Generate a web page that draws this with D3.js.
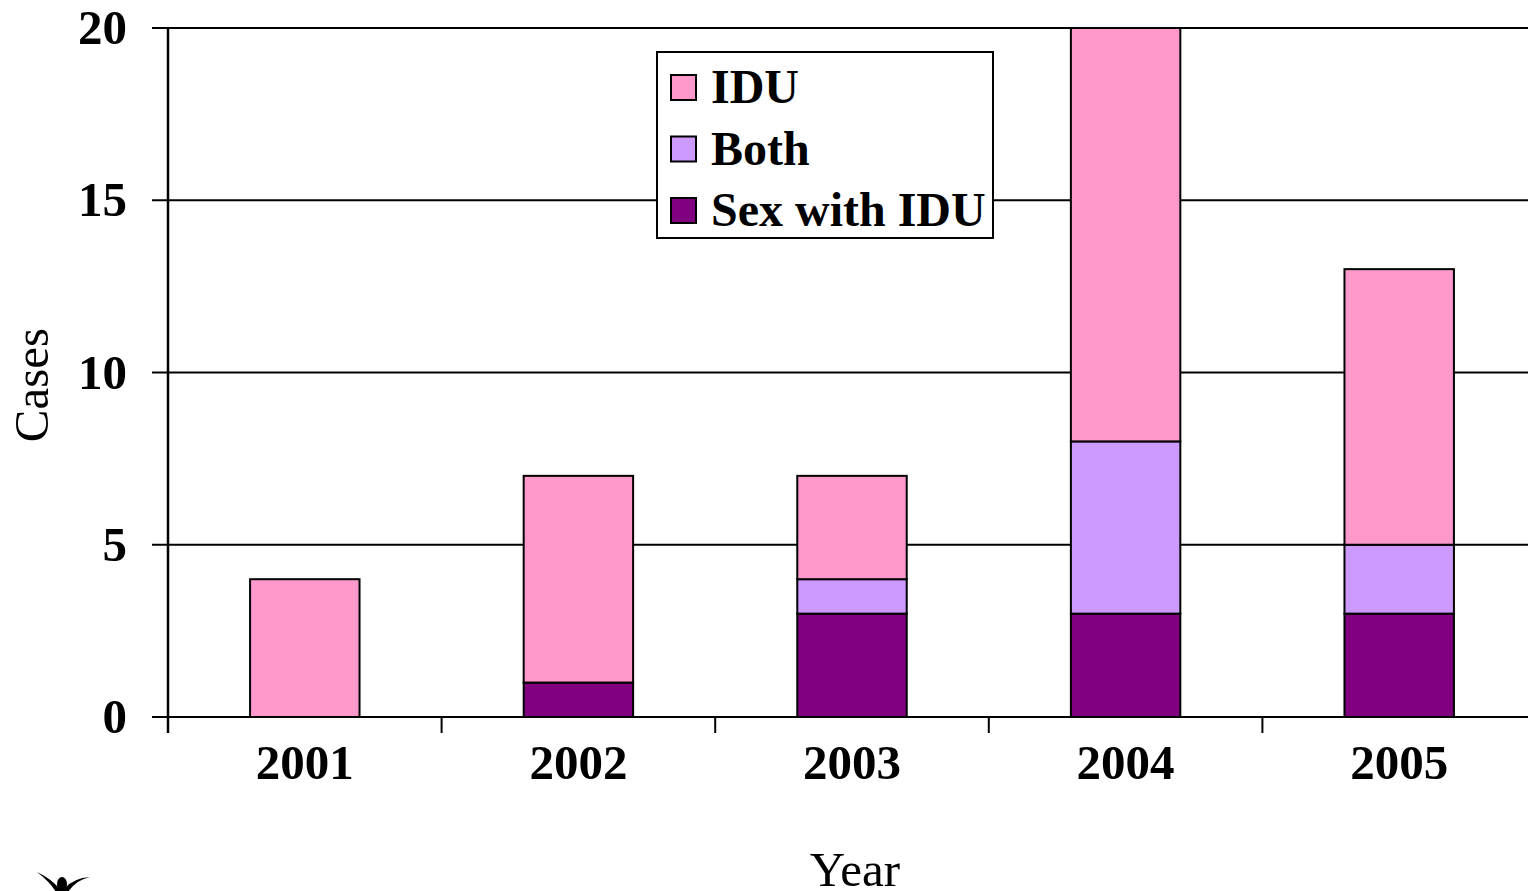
<!DOCTYPE html>
<html lang="en">
<head>
    <meta charset="UTF-8">
    <title>Cases by year</title>
    <script src="https://d3js.org/d3.v7.min.js"></script>
    <style>
        body { margin: 0; background: #fff; }
        text { font-family: "Liberation Serif", "Times New Roman", serif; }
    </style>
</head>
<body>
<script>
    // data
    years = ["2001", "2002", "2003", "2004", "2005"]
    sexWithIdu = [0, 1, 3, 3, 3]
    both = [0, 0, 1, 5, 2]
    idu = [4, 6, 3, 12, 8]
    yTicks = [0, 5, 10, 15, 20]

    seriesNames = ["Sex with IDU", "Both", "IDU"]
    colors = {"Sex with IDU": "#800080", "Both": "#CC99FF", "IDU": "#FF99CC"}

    rows = years.map((y, i) => ({year: y, "Sex with IDU": sexWithIdu[i], "Both": both[i], "IDU": idu[i]}))

    // chart dimensions
    w = 1528
    h = 891
    margin = {top: 28, right: -8, bottom: 174, left: 168}
    width = w - margin.left - margin.right
    height = h - margin.top - margin.bottom

    root = d3.select("body")
        .append("svg")
        .attr("width", w)
        .attr("height", h)

    svg = root.append("g")
        .attr("transform", "translate(" + margin.left + "," + margin.top + ")")

    x = d3.scaleBand()
        .domain(years)
        .range([0, width])
        .paddingInner(0.6)
        .paddingOuter(0.3)

    xTick = d3.scaleBand()
        .domain(years)
        .range([0, width])

    y = d3.scaleLinear()
        .domain([0, 20])
        .range([height, 0])

    // gridlines
    svg.selectAll("line.grid")
        .data(yTicks)
        .enter()
        .append("line")
        .attr("class", "grid")
        .attr("x1", -16)
        .attr("x2", width)
        .attr("y1", d => y(d))
        .attr("y2", d => y(d))
        .attr("stroke", "#000")
        .attr("stroke-width", 2)

    // y axis line
    svg.append("line")
        .attr("x1", 0).attr("x2", 0)
        .attr("y1", 0).attr("y2", height + 16)
        .attr("stroke", "#000")
        .attr("stroke-width", 2.5)

    // x ticks
    svg.selectAll("line.xtick")
        .data(years.slice(1))
        .enter()
        .append("line")
        .attr("class", "xtick")
        .attr("x1", d => xTick(d))
        .attr("x2", d => xTick(d))
        .attr("y1", height)
        .attr("y2", height + 16)
        .attr("stroke", "#000")
        .attr("stroke-width", 2)

    // stacked bars
    stack = d3.stack().keys(seriesNames)(rows)

    svg.selectAll("g.layer")
        .data(stack)
        .enter()
        .append("g")
        .attr("class", "layer")
        .attr("fill", d => colors[d.key])
        .selectAll("rect")
        .data(d => d.filter(s => s[1] > s[0]))
        .enter()
        .append("rect")
        .attr("x", d => x(d.data.year))
        .attr("width", x.bandwidth())
        .attr("y", d => y(d[1]))
        .attr("height", d => y(d[0]) - y(d[1]))
        .attr("stroke", "#000")
        .attr("stroke-width", 2)

    // y tick labels
    svg.selectAll("text.ylab")
        .data(yTicks)
        .enter()
        .append("text")
        .attr("class", "ylab")
        .attr("x", -41)
        .attr("y", d => y(d) + 16)
        .attr("text-anchor", "end")
        .attr("font-weight", "bold")
        .attr("font-size", 49)
        .text(d => d)

    // x tick labels
    svg.selectAll("text.xlab")
        .data(years)
        .enter()
        .append("text")
        .attr("class", "xlab")
        .attr("x", d => xTick(d) + xTick.bandwidth() / 2)
        .attr("y", height + 62)
        .attr("text-anchor", "middle")
        .attr("font-weight", "bold")
        .attr("font-size", 49)
        .text(d => d)

    // axis titles
    root.append("text")
        .attr("transform", "translate(48,385) rotate(-90)")
        .attr("text-anchor", "middle")
        .attr("font-size", 49)
        .text("Cases")

    root.append("text")
        .attr("x", 855)
        .attr("y", 886)
        .attr("text-anchor", "middle")
        .attr("font-size", 49)
        .text("Year")

    // legend
    legend = root.append("g")
        .attr("transform", "translate(657,52)")

    legend.append("rect")
        .attr("width", 336)
        .attr("height", 186)
        .attr("fill", "#fff")
        .attr("stroke", "#000")
        .attr("stroke-width", 2)

    legendItems = ["IDU", "Both", "Sex with IDU"]
    li = legend.selectAll("g.item")
        .data(legendItems)
        .enter()
        .append("g")
        .attr("class", "item")
        .attr("transform", (d, i) => "translate(14," + (35 + i * 61.5) + ")")

    li.append("rect")
        .attr("x", 0)
        .attr("y", -12)
        .attr("width", 25)
        .attr("height", 25)
        .attr("fill", d => colors[d])
        .attr("stroke", "#000")
        .attr("stroke-width", 2)

    li.append("text")
        .attr("x", 40)
        .attr("y", 16)
        .attr("font-weight", "bold")
        .attr("font-size", 48)
        .text(d => d)

    // logo stub bottom-left
    logo = root.append("g").attr("transform", "translate(62,884)")
    logo.append("ellipse").attr("cx", 0).attr("cy", 0).attr("rx", 5).attr("ry", 7).attr("fill", "#000")
    logo.append("path")
        .attr("d", "M-25,-12 Q-12,-2 -6,8 L6,8 Q14,-4 28,-7 Q12,-6 3,4 L-3,4 Q-12,-6 -25,-12 Z")
        .attr("fill", "#000")
</script>
</body>
</html>
